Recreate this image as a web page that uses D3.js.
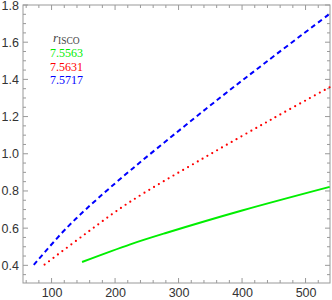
<!DOCTYPE html>
<head>
  <meta charset="utf-8">
  <script src="https://cdn.jsdelivr.net/npm/d3@7"></script>
  <style>
    body { margin: 0; background: #fff; }
    .tick text { font-family: "Liberation Sans", Arial, sans-serif; font-size: 12.5px; fill: #333; }
  </style>
</head>
<body>
  <div id="chartDiv"></div>
  <script>
    // curves: [x, y]
    var greenPts = [[148, 0.418], [224, 0.513], [280, 0.574], [400, 0.695], [538, 0.822]];
    var redPts = [[89, 0.404], [150, 0.561], [222, 0.738], [339, 0.976], [449, 1.190], [538, 1.358]];
    var bluePts = [[72, 0.402], [124, 0.602], [192, 0.817], [343, 1.241], [439, 1.496], [537, 1.750]];

    var legendTitle = "ISCO";
    var legendVals = ["7.5563", "7.5631", "7.5717"];
    var legendCols = ["#00ee00", "#ff0000", "#0000ff"];

    var xTicks = [100, 200, 300, 400, 500];
    var yTicks = [0.4, 0.6, 0.8, 1.0, 1.2, 1.4, 1.6, 1.8];

    var margin = {top: 5, right: 2, bottom: 17, left: 23};
    var width = 332 - margin.left - margin.right;
    var height = 300 - margin.top - margin.bottom;

    var svg = d3.select("#chartDiv").append("svg")
        .attr("width", 332)
        .attr("height", 300)
      .append("g")
        .attr("transform", "translate(" + margin.left + "," + margin.top + ")");

    var x = d3.scaleLinear().domain([55, 538.5]).range([0, width]);
    var y = d3.scaleLinear().domain([0.305, 1.8]).range([height, 0]);

    var minorX = d3.range(60, 540, 20);
    var minorY = d3.range(0.35, 1.8, 0.05);

    // ticks on all four sides, pointing inward
    function ticks(g, scale, vals, len, orient) {
      g.selectAll("line." + orient + len).data(vals).enter().append("line")
        .attr("stroke", "#999")
        .attr("stroke-width", 1)
        .attr("x1", function(d) { return orient == "b" || orient == "t" ? scale(d) : (orient == "l" ? 0 : width); })
        .attr("x2", function(d) { return orient == "b" || orient == "t" ? scale(d) : (orient == "l" ? len : width - len); })
        .attr("y1", function(d) { return orient == "l" || orient == "r" ? scale(d) : (orient == "t" ? 0 : height); })
        .attr("y2", function(d) { return orient == "l" || orient == "r" ? scale(d) : (orient == "t" ? len : height - len); });
    }
    var tg = svg.append("g");
    ["b", "t"].forEach(function(o) { ticks(tg, x, minorX.filter(function(v) { return v % 100 != 0; }), 3, o); ticks(tg, x, xTicks, 5, o); });
    ["l", "r"].forEach(function(o) {
      ticks(tg, y, minorY.filter(function(v) { return Math.abs(v * 5 - Math.round(v * 5)) > 0.01; }), 3, o);
      ticks(tg, y, yTicks, 5, o);
    });

    svg.append("rect")
        .attr("width", width)
        .attr("height", height)
        .attr("fill", "none")
        .attr("stroke", "#999");

    var xAxis = svg.append("g")
        .attr("class", "tick")
        .attr("transform", "translate(0," + height + ")")
        .call(d3.axisBottom(x).tickValues(xTicks).tickSize(0).tickPadding(5));
    xAxis.select(".domain").remove();

    var yAxis = svg.append("g")
        .attr("class", "tick")
        .call(d3.axisLeft(y).tickValues(yTicks).tickSize(0).tickPadding(4).tickFormat(d3.format(".1f")));
    yAxis.select(".domain").remove();

    var line = d3.line()
        .x(function(d) { return x(d[0]); })
        .y(function(d) { return y(d[1]); })
        .curve(d3.curveCatmullRom.alpha(0.5));

    svg.append("path").datum(greenPts)
        .attr("d", line).attr("fill", "none")
        .attr("stroke", legendCols[0]).attr("stroke-width", 2);

    svg.append("path").datum(redPts)
        .attr("d", line).attr("fill", "none")
        .attr("stroke", legendCols[1]).attr("stroke-width", 2.2)
        .attr("stroke-linecap", "round")
        .attr("stroke-dasharray", "0,5.6");

    svg.append("path").datum(bluePts)
        .attr("d", line).attr("fill", "none")
        .attr("stroke", legendCols[2]).attr("stroke-width", 2)
        .attr("stroke-dasharray", "5,3.5");

    // legend
    var lg = svg.append("g").attr("font-family", "Liberation Serif, Times New Roman, serif");
    var title = lg.append("text")
        .attr("x", 53 - margin.left)
        .attr("y", 42 - margin.top)
        .attr("fill", "#444")
        .attr("font-size", "13px");
    title.append("tspan").attr("font-style", "italic").text("r");
    title.append("tspan").attr("font-size", "9.5px").attr("dy", 2).text(legendTitle);

    legendVals.forEach(function(v, i) {
      lg.append("text")
        .attr("x", 50 - margin.left)
        .attr("y", 57 + i * 13.5 - margin.top)
        .attr("fill", legendCols[i])
        .attr("font-size", "12px")
        .text(v);
    });
  </script>
</body>
